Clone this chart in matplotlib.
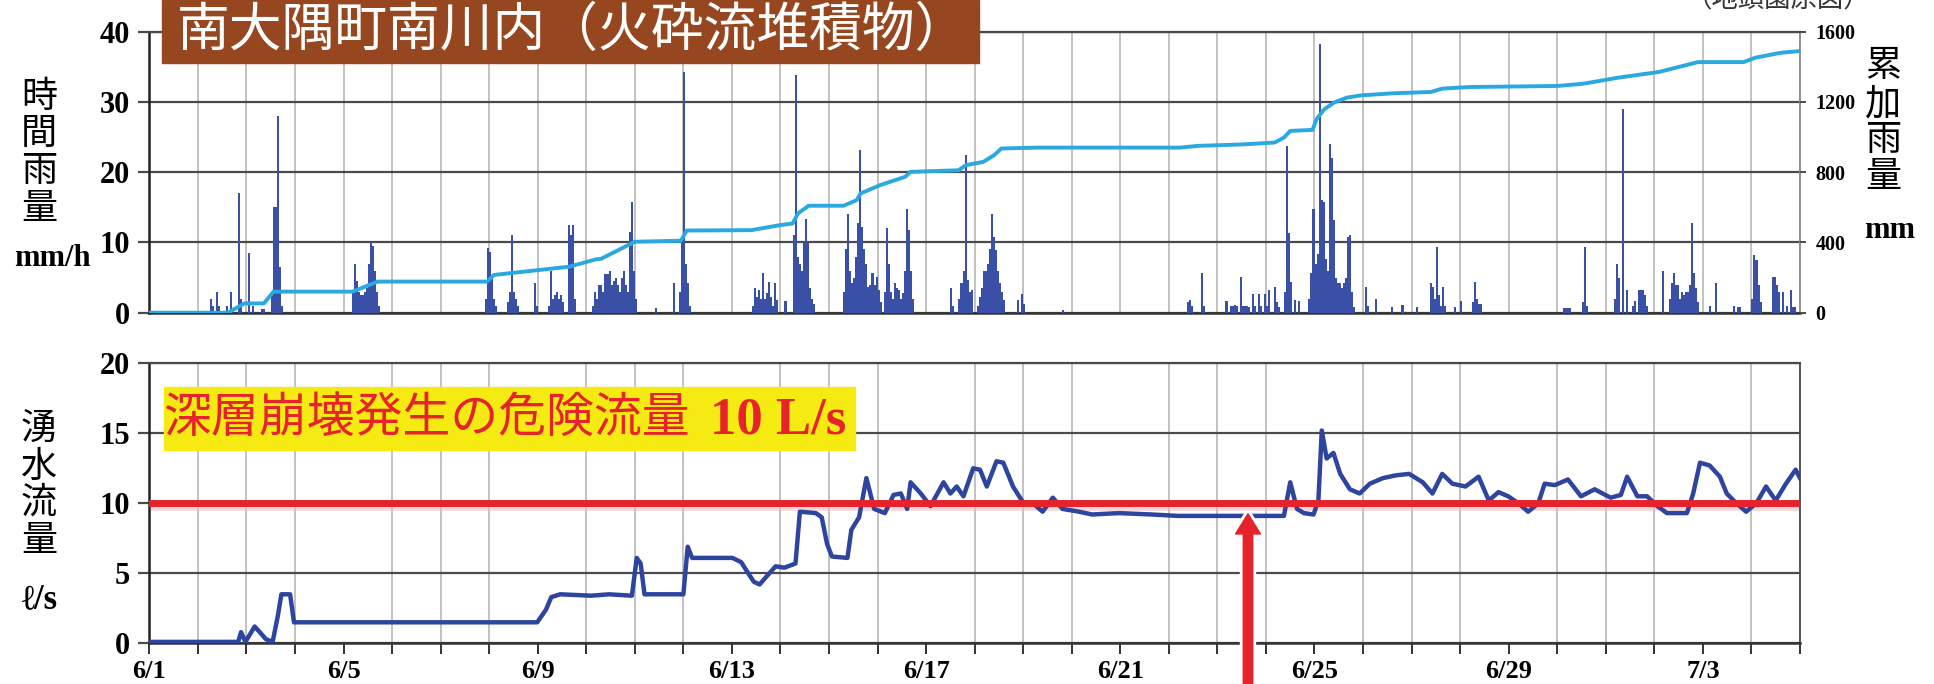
import matplotlib
matplotlib.use('Agg')
import matplotlib.pyplot as plt
from matplotlib.patches import Rectangle
from matplotlib import patheffects as pe
import numpy as np

W, H, DPI = 1934, 684, 100
N_DAYS = 34

# hourly rainfall: hour since 6/1 0:00 and mm/h
rain_hour = [30, 31, 33, 34, 38, 40, 44, 45, 49, 51, 55, 56, 60, 61, 62, 63, 64, 65,
             100, 101, 102, 103, 104, 105, 106, 107, 108, 109, 110, 111, 112, 113,
             166, 167, 168, 169, 170, 171, 177, 178, 179, 180, 181, 182, 190, 191,
             197, 198, 199, 200, 201, 202, 203, 204, 207, 208, 209, 210,
             219, 220, 221, 222, 223, 224, 225, 226, 227, 228, 229, 230, 231, 232, 233, 234,
             235, 236, 237, 238, 239, 240, 250, 259, 262, 263, 264, 265, 266, 267,
             298, 299, 300, 301, 302, 303, 304, 305, 306, 307, 308, 309, 310, 314,
             318, 319, 320, 321, 322, 323, 324, 325, 326, 327, 328,
             343, 344, 345, 346, 347, 348, 349, 350, 351, 352, 353, 354, 355, 356, 357, 358,
             359, 360, 361, 363, 364, 365, 366, 367, 368, 369, 370, 371, 372, 373, 374, 375,
             376, 377, 396, 397, 400, 401, 402, 403, 404, 405, 406,
             409, 410, 411, 412, 413, 414, 415, 416, 417, 418, 419, 420, 421, 422,
             429, 431, 432, 451, 513, 514, 515, 520, 521,
             532, 534, 535, 536, 537, 539, 540, 541, 542, 543, 545, 546, 548, 549, 551, 552,
             553, 556, 557, 558, 561, 562, 563, 564, 566, 568,
             573, 574, 575, 576, 577, 578, 579, 580, 581, 582, 583, 584, 585, 586, 587, 588,
             589, 590, 591, 592, 593, 594, 595, 601, 602, 606, 614, 619, 626,
             633, 634, 635, 636, 637, 638, 639, 640, 645, 648, 654, 655, 656, 657, 658,
             699, 700, 701, 702, 708, 709, 710, 724, 725, 726, 728, 730,
             733, 734, 736, 737, 738, 739, 740, 748, 751, 752, 753, 754, 755, 756, 757, 758,
             759, 760, 761, 762, 763, 764, 765, 771, 774, 783, 785, 786,
             792, 793, 794, 795, 796, 802, 803, 804, 805, 807, 809, 811, 812, 813]
rain_mm = [2, 1, 3, 1, 1, 3, 17, 2, 8.5, 1, 0.5, 0.5, 3, 15, 15, 28, 6.5, 1,
           3, 7, 4.5, 3, 2.5, 2.5, 3, 3.5, 7, 10, 9.5, 6, 3, 1,
           2, 9.2, 8.6, 5, 2, 1, 1.5, 3, 11, 3, 2, 1, 4.2, 1,
           1, 6, 2, 2.5, 3, 2, 2.5, 1.5, 12.5, 11, 12.5, 2,
           1, 3, 2, 4, 4, 3, 5.5, 5.5, 6, 4, 4.5, 5, 4, 3, 5, 6,
           4, 3, 11.5, 15.8, 6, 2, 0.7, 4.2, 3, 9.9, 34.3, 7, 4.2, 1,
           1, 3.5, 2.3, 3.2, 2, 5.6, 2, 2.8, 4.4, 2.3, 1, 4.2, 1.8, 1.6,
           11, 33.8, 8, 7, 6, 9.9, 13.4, 9.9, 3.5, 2, 1.3,
           3, 9.1, 14.1, 6, 4.2, 5, 8, 12.7, 23.1, 12.2, 9, 7, 3.7, 4, 5.6, 4,
           5.1, 3.2, 1.5, 3, 12, 7, 3, 2, 4.2, 3.5, 3.2, 2, 2.8, 6, 14.8, 11.8,
           6, 2, 3.5, 1, 2, 4.2, 6, 22.4, 4.6, 3, 3.2,
           1, 2.3, 3.5, 6, 6, 7, 9, 14.1, 10.8, 8.9, 6, 4.2, 3, 1.8,
           1.8, 2.7, 1.3, 0.4, 1.5, 1.8, 1, 5.6, 1,
           1.6, 1, 1, 1.1, 1, 5.1, 1, 1, 1, 0.8, 2.7, 1, 2.7, 1, 2.7, 1,
           3.2, 3.7, 1.5, 0.8, 3, 23.8, 11.3, 4.4, 1.8, 1.6,
           2, 5.6, 14.8, 7, 8.4, 38.3, 16, 15.8, 7.6, 6, 24, 22, 13.2, 5, 4.2, 4.2,
           3.5, 4.2, 5, 10.8, 11, 3, 0.8, 3.7, 1, 2, 0.8, 1.1, 0.8,
           4.2, 3.7, 2, 9.4, 2.5, 1, 3.7, 1, 0.8, 1.6, 1.5, 4.4, 2, 1.2, 1.3,
           0.6, 0.6, 0.6, 0.6, 1.5, 9.4, 1, 2, 7, 5, 29, 3.2,
           1, 1.6, 3.2, 3.2, 3.2, 2.5, 1, 6, 2, 4.2, 5.6, 4, 4, 2, 3, 2.5,
           3, 3, 4, 12.7, 5.6, 3.5, 1.5, 1, 4.2, 1, 0.8, 0.8,
           2, 8.2, 7.5, 4, 1.5, 5.1, 5.1, 4, 3, 3, 1, 3.3, 0.8, 0.8]

# cumulative rainfall (mm)
cum_day = [0, 1.62, 1.96, 2.36, 2.56, 4.19, 4.7, 6.96, 7.1, 8.65, 9.2, 9.3, 10.0, 10.95,
           11.07, 12.4, 13.0, 13.25, 13.36, 13.58, 14.3, 14.57, 14.65, 15.05, 15.57, 15.68,
           16.67, 16.82, 17.18, 17.4, 17.55, 18.29, 21.23, 21.6, 22.5, 23.18, 23.37, 23.5,
           23.96, 24.04, 24.2, 24.4, 24.67, 24.98, 25.6, 26.4, 26.63, 27.2, 29.0, 29.54,
           30.25, 31.1, 31.9, 32.84, 33.08, 33.6, 34.0]
cum_mm = [0, 0, 53, 53, 120, 120, 177, 177, 215, 262, 304, 306, 404, 410,
          468, 470, 499, 508, 565, 609, 609, 641, 679, 726, 774, 802,
          811, 840, 859, 897, 935, 940, 940, 950, 958, 969, 997, 1035,
          1041, 1101, 1158, 1196, 1225, 1238, 1249, 1257, 1276, 1285, 1291, 1304,
          1338, 1371, 1427, 1427, 1452, 1480, 1490]

# spring discharge (L/s)
flow_day = [0, 1.83, 1.89, 1.98, 2.17, 2.3, 2.4, 2.54, 2.65, 2.72, 2.9, 2.98, 7.99, 8.17,
            8.28, 8.46, 9.1, 9.47, 9.94, 10.04, 10.12, 10.2, 11.0, 11.09, 11.18, 12.01,
            12.19, 12.3, 12.45, 12.57, 12.72, 12.9, 13.08, 13.31, 13.4, 13.73, 13.85, 13.96,
            14.06, 14.38, 14.46, 14.62, 14.77, 14.93, 15.15, 15.33, 15.48, 15.61, 15.68,
            15.89, 16.09, 16.36, 16.5, 16.63, 16.77, 16.97, 17.11, 17.25, 17.45, 17.59,
            17.79, 17.99, 18.2, 18.4, 18.61, 18.81, 19.15, 19.42, 19.97, 20.65, 21.19,
            22.28, 23.37, 23.5, 23.64, 23.78, 23.98, 24.08, 24.15, 24.25, 24.39, 24.53,
            24.73, 24.93, 25.14, 25.41, 25.68, 25.95, 26.23, 26.43, 26.63, 26.84, 27.11,
            27.38, 27.59, 27.79, 27.99, 28.2, 28.4, 28.61, 28.74, 28.95, 29.22, 29.49,
            29.77, 30.1, 30.31, 30.44, 30.65, 30.85, 31.06, 31.26, 31.67, 31.8, 31.94,
            32.14, 32.35, 32.49, 32.69, 32.89, 33.1, 33.3, 33.5, 33.71, 33.91, 34.0]
flow_val = [0.1, 0.1, 0.8, 0.1, 1.2, 0.7, 0.3, 0.1, 2.0, 3.5, 3.5, 1.5, 1.5, 2.4,
            3.3, 3.5, 3.4, 3.5, 3.4, 6.1, 5.7, 3.5, 3.5, 6.9, 6.1, 6.1,
            5.8, 5.2, 4.4, 4.2, 4.8, 5.5, 5.4, 5.7, 9.4, 9.3, 9.0, 7.1,
            6.2, 6.1, 8.1, 9.0, 11.8, 9.6, 9.3, 10.6, 10.7, 9.6, 11.5,
            10.7, 9.8, 11.5, 10.7, 11.2, 10.5, 12.5, 12.4, 11.2, 13.0, 12.9,
            11.2, 10.1, 10.0, 9.4, 10.4, 9.6, 9.4, 9.2, 9.3, 9.2, 9.1,
            9.1, 9.1, 11.5, 9.6, 9.3, 9.2, 10.2, 15.2, 13.2, 13.6, 12.1,
            11.0, 10.7, 11.4, 11.8, 12.0, 12.1, 11.5, 10.7, 12.1, 11.4, 11.2,
            11.9, 10.2, 10.8, 10.5, 10.0, 9.4, 10.0, 11.4, 11.3, 11.7, 10.5,
            11.0, 10.4, 10.6, 11.9, 10.5, 10.5, 9.8, 9.3, 9.3, 10.7, 12.9,
            12.7, 11.9, 10.7, 10.0, 9.4, 10.0, 11.2, 10.2, 11.4, 12.4, 11.8]

date_labels = ['6/1', '6/5', '6/9', '6/13', '6/17', '6/21', '6/25', '6/29', '7/3']
danger_flow = 10
arrow_day, arrow_flow = 22.63, 9.25

JP = 'Noto Sans CJK JP'
SERIF = ['Liberation Serif', 'DejaVu Serif']
plt.rcParams['font.family'] = SERIF

RAIN_C = '#3a4fa6'
CUM_C = '#2aa9e0'
FLOW_C = '#2e459f'
RED = '#e6232b'
GRID_H = '#4a4a4a'
GRID_V = '#bdbdbd'

fig = plt.figure(figsize=(W / DPI, H / DPI), dpi=DPI)


def px(x, y):
    return x / W, 1 - y / H


x0, x1 = 149.3, 1800
ax = fig.add_axes([x0 / W, 1 - 312.7 / H, (x1 - x0) / W, (312.7 - 31.7) / H])
ax_f = fig.add_axes([x0 / W, 1 - 643.3 / H, (x1 - x0) / W, (643.3 - 363.3) / H])


def style_grid(a):
    a.set_xlim(0, N_DAYS)
    a.set_xticks(np.arange(0, N_DAYS + 1), minor=True)
    a.grid(True, axis='x', which='minor', color=GRID_V, lw=1.3)
    a.grid(True, axis='y', which='major', color=GRID_H, lw=1.6)
    a.set_axisbelow(True)
    a.spines['left'].set_color('#222222')
    a.spines['left'].set_linewidth(1.8)
    a.spines['bottom'].set_color('#333333')
    a.spines['bottom'].set_linewidth(1.8)
    a.spines['top'].set_color(GRID_H)
    a.spines['top'].set_linewidth(1.6)
    a.spines['right'].set_color('#8a8a8a')
    a.spines['right'].set_linewidth(1.3)
    a.tick_params(axis='y', length=8, width=1.6, color=GRID_H, pad=6,
                  labelsize=22)
    for lab in a.get_yticklabels():
        lab.set_fontweight('bold')


# ---- hourly rain + cumulative rain ----
ax.bar(np.array(rain_hour) / 24 + 1 / 48, rain_mm, width=1 / 24,
       color=RAIN_C, linewidth=0, zorder=3)
ax.set_ylim(0, 40)
ax.set_yticks([0, 10, 20, 30, 40])
ax.set_xticks([])
ax.tick_params(axis='x', which='both', length=0)
style_grid(ax)

ax2 = ax.twinx()
ax2.plot(cum_day, cum_mm, color=CUM_C, lw=2.8, zorder=4)
ax2.set_xlim(0, N_DAYS)
ax2.set_ylim(0, 1600)
ax2.set_yticks([0, 400, 800, 1200, 1600])
ax2.tick_params(axis='y', length=4, width=1.4, color=GRID_H, pad=7, labelsize=14.5)
for lab in ax2.get_yticklabels():
    lab.set_fontweight('bold')
for s in ax2.spines.values():
    s.set_visible(False)

# ---- spring discharge ----
ax_f.set_ylim(0, 20)
ax_f.set_yticks([0, 5, 10, 15, 20])
style_grid(ax_f)
ax_f.spines['right'].set_color(GRID_H)
ax_f.set_xticks(np.arange(0, N_DAYS, 4))
ax_f.set_xticklabels(date_labels)
ax_f.tick_params(axis='x', which='both', length=8, width=1.4, color='#333333',
                 pad=4, labelsize=19)
for lab in ax_f.get_xticklabels():
    lab.set_fontweight('bold')

ax_f.axhline(danger_flow - 0.35, color='#f2b9b9', lw=4, alpha=0.6, zorder=2)
ax_f.plot(flow_day, flow_val, color=FLOW_C, lw=3.2, zorder=3,
          solid_joinstyle='round')
ax_f.axhline(danger_flow, color=RED, lw=5, zorder=4)

ax_f.annotate('', xy=(arrow_day, arrow_flow),
              xytext=(arrow_day, -0.2), xycoords='data',
              textcoords=('data', 'axes fraction'),
              annotation_clip=False,
              arrowprops=dict(arrowstyle='simple,head_length=1.45,head_width=1.8,tail_width=0.68',
                              mutation_scale=10, color=RED, shrinkA=0, shrinkB=0,
                              clip_on=False,
                              path_effects=[pe.withStroke(linewidth=5, foreground='white')]),
              zorder=6)

# ---- title box ----
fig.patches.append(Rectangle(px(162, 63), (979 - 162) / W, 63 / H,
                             transform=fig.transFigure, color='#974720', zorder=5))
fig.text(*px(572, 30), '南大隅町南川内（火砕流堆積物）', family=JP, color='white',
         fontsize=38, ha='center', va='center', zorder=6)
fig.text(*px(1778, 0), '（地頭園原図）', family=JP, color='#333333',
         fontsize=19, ha='center', va='center')

# ---- danger level label ----
fig.patches.append(Rectangle(px(164, 450), (855 - 164) / W, (450 - 386.7) / H,
                             transform=fig.transFigure, color='#f5eb12', zorder=5))
fig.text(*px(163, 419), '深層崩壊発生の危険流量', family=JP, color=RED,
         fontsize=34.5, ha='left', va='center', zorder=6)
fig.text(*px(846, 420), '10 L/s', family=SERIF, fontweight='bold', color=RED,
         fontsize=38, ha='right', va='center', zorder=6)

# ---- axis captions ----
for ch, yy in zip('時間雨量', [97, 134, 171, 209]):
    fig.text(*px(39, yy), ch, family=JP, fontsize=26, ha='center', va='center')
fig.text(*px(52, 258), 'mm/h', fontweight='bold', fontsize=22, ha='center', va='center')

for ch, yy in zip('累加雨量', [66, 104, 140, 177]):
    fig.text(*px(1883, yy), ch, family=JP, fontsize=26, ha='center', va='center')
fig.text(*px(1890, 230), 'mm', fontweight='bold', fontsize=22, ha='center', va='center')

for ch, yy in zip('湧水流量', [429, 467, 503, 541]):
    fig.text(*px(39, yy), ch, family=JP, fontsize=26, ha='center', va='center')
fig.text(*px(40, 600), 'ℓ/s', family=['Liberation Serif', 'DejaVu Sans', JP],
         fontweight='bold', fontsize=25, ha='center', va='center')

fig.savefig('out.png', dpi=DPI)
